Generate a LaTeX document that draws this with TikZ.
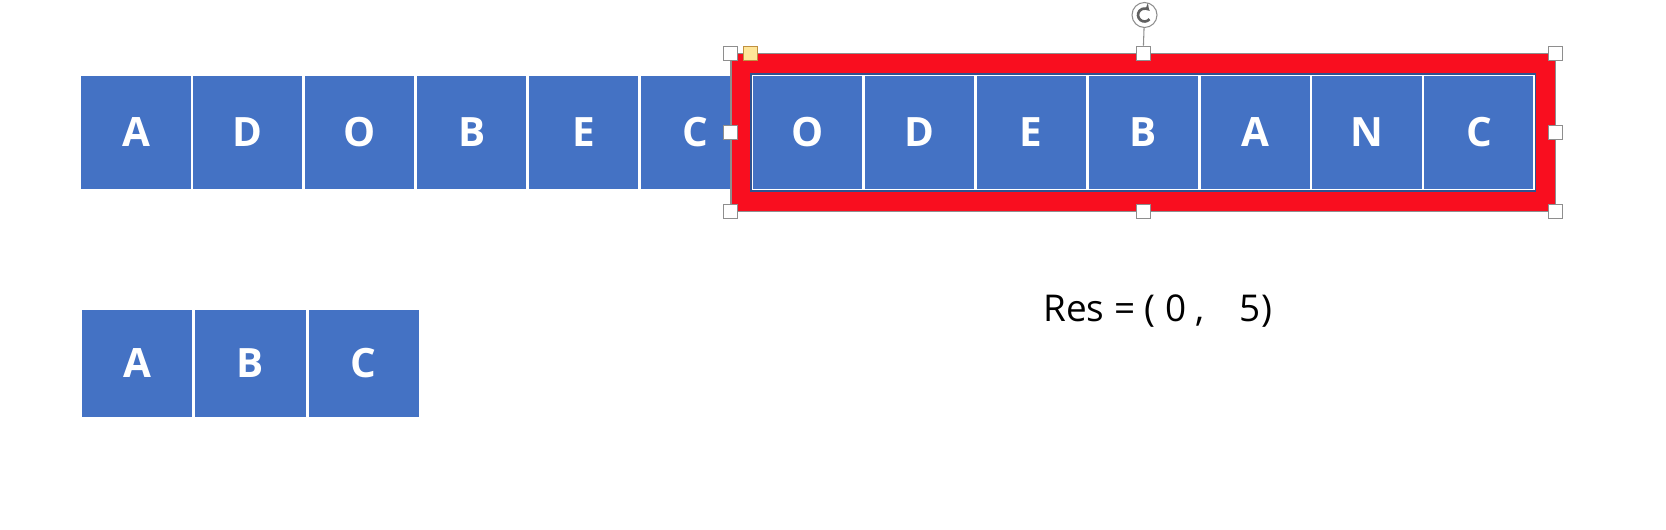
\documentclass[tikz,border=0pt]{standalone}
\usepackage{fontspec}
\setmainfont{Open Sans}
\usetikzlibrary{positioning,fit,arrows.meta}
\definecolor{cellblue}{HTML}{4472C4}
\definecolor{framered}{HTML}{F90E1F}
\definecolor{groupblue}{HTML}{2F528F}
\definecolor{selgray}{HTML}{8E8E8E}
\definecolor{iconGray}{HTML}{606060}
\definecolor{anchoryellow}{HTML}{FFE699}
\definecolor{anchorbrown}{HTML}{C09040}

\begin{document}
\begin{tikzpicture}[
  node distance=0pt,
  cell/.style={rectangle, fill=cellblue, draw=white, line width=0.8pt, inner sep=0pt, minimum width=2.21cm, minimum height=2.3cm, text=white, font=\bfseries\fontsize{23}{28}\selectfont},
  patcell/.style={cell, minimum width=2.24cm, minimum height=2.16cm},
  handle/.style={rectangle, fill=white, draw=selgray, line width=0.6pt, minimum size=0.28cm, inner sep=0pt},
  frame/.style={rectangle, draw=framered, line width=0.38cm, inner sep=0.22cm}
]
\useasboundingbox (0,0) rectangle (33.32,10.6);

% text row
\node[cell] (src1) at (2.72,7.95) {A};
\node[cell, right=of src1] (src2) {D};
\node[cell, right=of src2] (src3) {O};
\node[cell, right=of src3] (src4) {B};
\node[cell, right=of src4] (src5) {E};
\node[cell, right=of src5] (src6) {C};
\node[cell, right=of src6] (src7) {O};
\node[cell, right=of src7] (src8) {D};
\node[cell, right=of src8] (src9) {E};
\node[cell, right=of src9] (src10) {B};
\node[cell, right=of src10] (src11) {A};
\node[cell, right=of src11] (src12) {N};
\node[cell, right=of src12] (src13) {C};

% pattern row
\node[patcell] (pat1) at (2.74,3.33) {A};
\node[patcell, right=of pat1] (pat2) {B};
\node[patcell, right=of pat2] (pat3) {C};

% window around the match
\node[frame, fit=(src7)(src13)] (win) {};
\node[rectangle, draw=groupblue, line width=1pt, inner sep=0.3pt, fit=(src7)(src13)] (grp) {};
\node[rectangle, draw=selgray, line width=0.6pt, inner sep=0.41cm, fit=(src7)(src13)] (sel) {};

% selection handles
\node[handle] (h1) at (sel.north west) {};
\node[handle] (h2) at (sel.north) {};
\node[handle] (h3) at (sel.north east) {};
\node[handle] (h4) at (sel.west) {};
\node[handle] (h5) at (sel.east) {};
\node[handle] (h6) at (sel.south west) {};
\node[handle] (h7) at (sel.south) {};
\node[handle] (h8) at (sel.south east) {};
\node[handle, fill=anchoryellow, draw=anchorbrown, right=0.1cm of h1] (adj) {};

\node[circle, draw=selgray, fill=white, line width=0.6pt, minimum size=0.5cm, inner sep=0pt] (rot) at (22.89,10.3) {};
\draw[selgray, line width=0.6pt] (rot) -- (h2);
\draw[iconGray, line width=1.5pt, -{Stealth[length=3.5pt,width=5pt]}] ([shift={(-40:0.13)}]rot.center) arc[start angle=-40, end angle=-315, radius=0.13];

% result
\node[anchor=base west, inner sep=0pt, font=\fontsize{21}{26}\selectfont] (res) at (20.86,4.16) {Res = ( 0 ,\hspace{0.7cm}5)};

\end{tikzpicture}
\end{document}
